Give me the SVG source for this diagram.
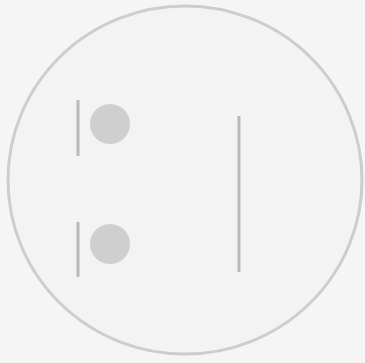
<svg xmlns="http://www.w3.org/2000/svg" width="365" height="363" viewBox="0 0 365 363">
<style>
.bar{stroke:#b8b8b8;stroke-width:3;fill:none}
.dot{fill:#cfcfcf}
</style>
<rect width="365" height="363" fill="#f5f5f5"/>
<g id="face">
<ellipse cx="185" cy="180" rx="177" ry="174" fill="#f3f3f3" stroke="#cdcdcd" stroke-width="3"/>
</g>
<g id="dot-top"><circle class="dot" cx="110" cy="124" r="20"/></g>
<g id="dot-bottom"><circle class="dot" cx="110" cy="244" r="20"/></g>
<g id="connectors">
<line class="bar" x1="78" y1="100" x2="78" y2="156"/>
<line class="bar" x1="78" y1="222" x2="78" y2="277"/>
<line class="bar" x1="239" y1="116" x2="239" y2="272"/>
</g>
</svg>
